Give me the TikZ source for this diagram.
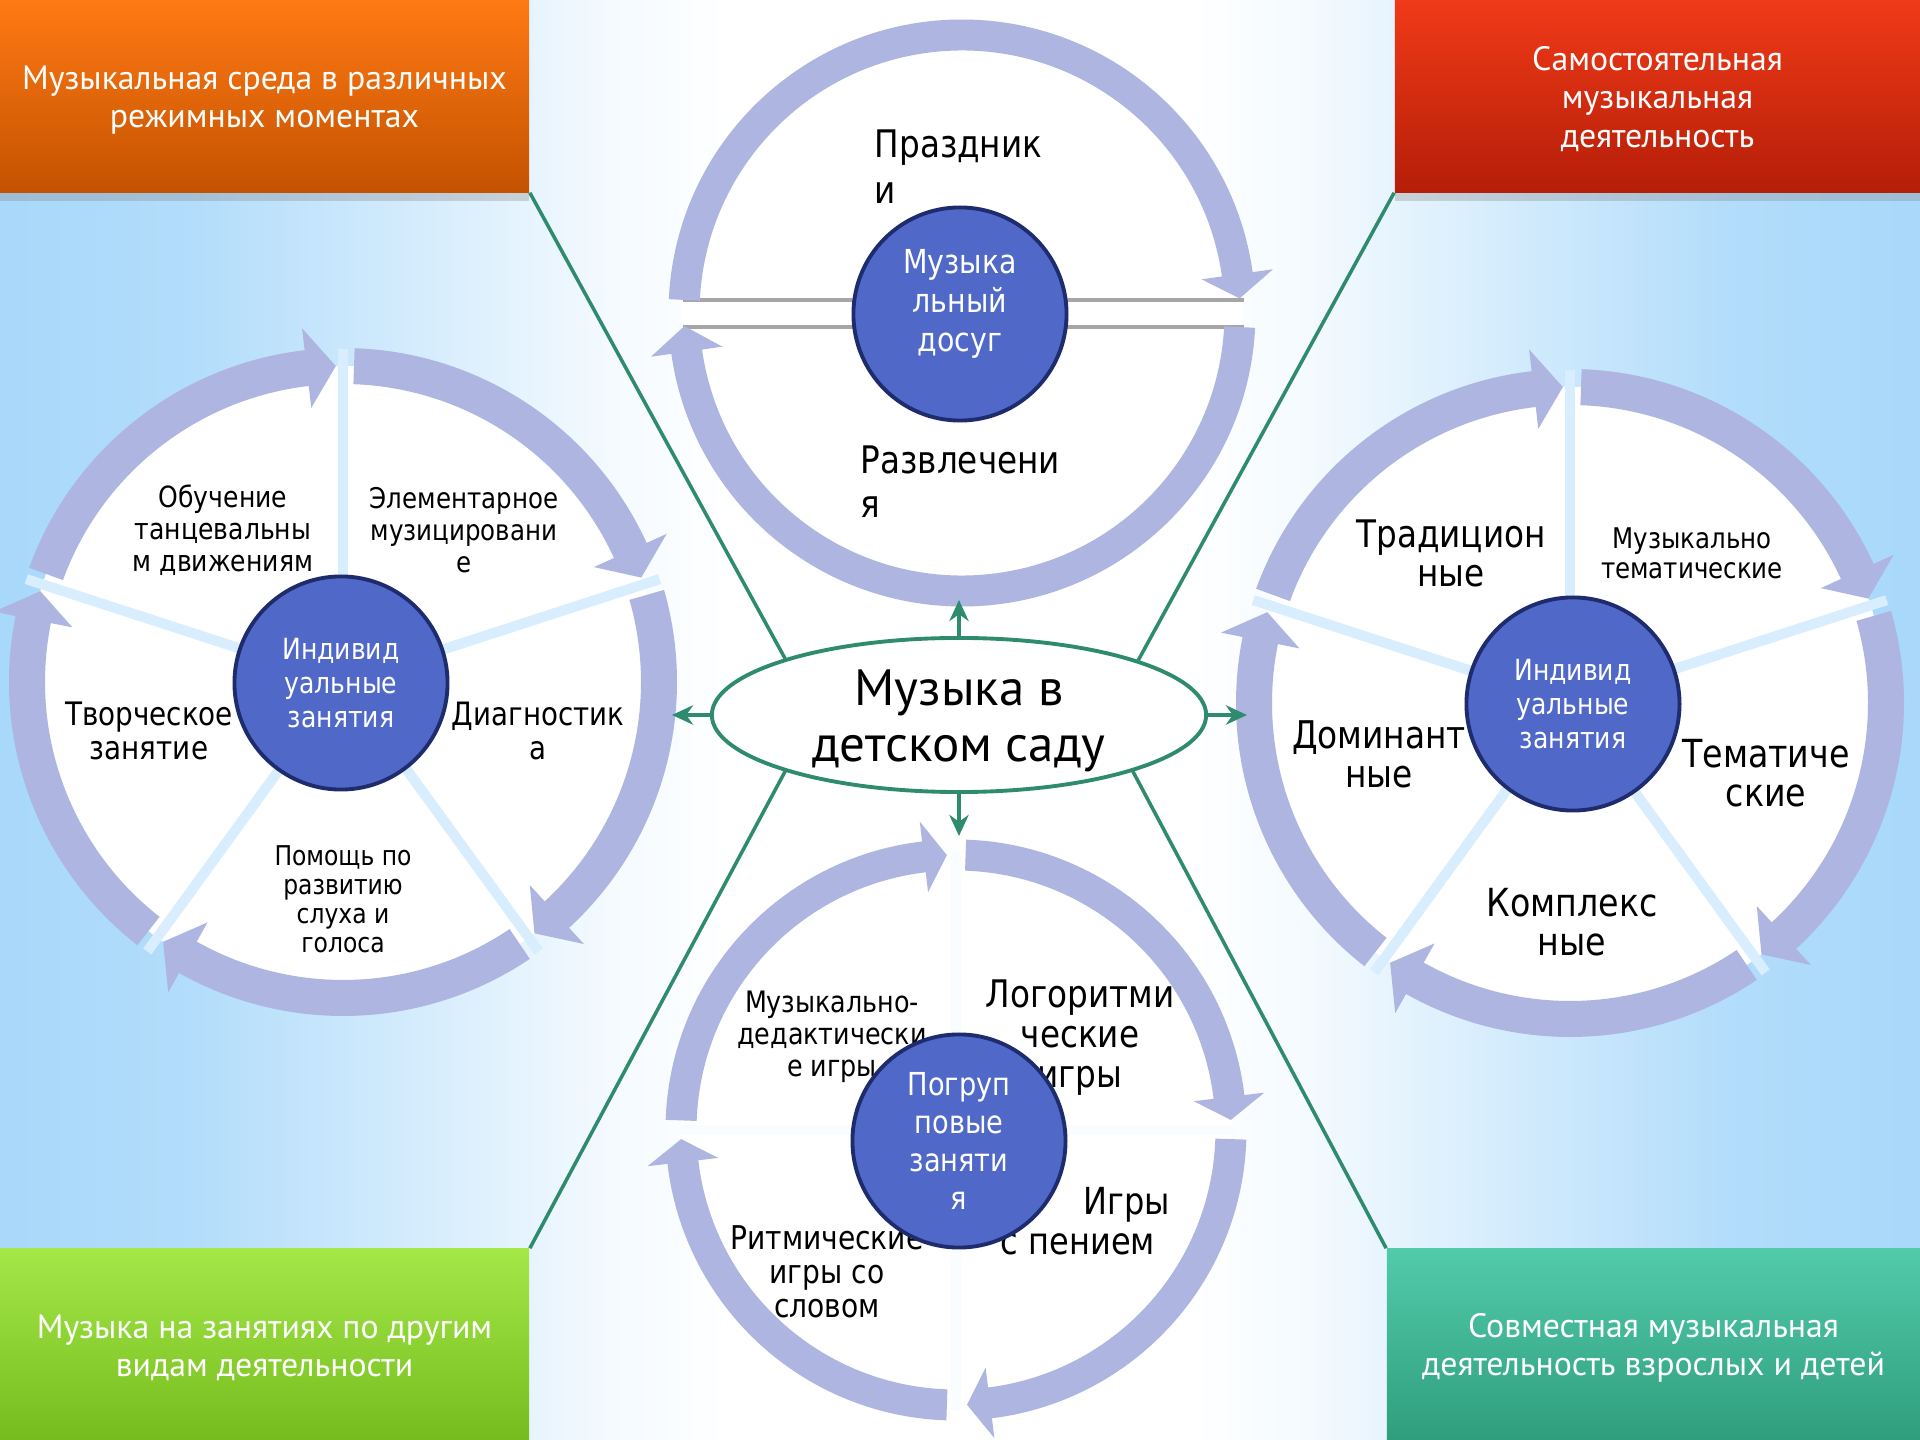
\documentclass[tikz,border=0pt]{standalone}
\usepackage{fontspec}
\setmainfont[FakeStretch=0.86]{DejaVu Sans}
\newfontfamily\boxfont{PT Sans}
\usetikzlibrary{shapes.geometric,arrows.meta,calc,shadows}

\definecolor{bgb}{HTML}{A8D8FA}
\colorlet{bgA}{bgb!88!white}
\colorlet{bgm}{bgb!55!white}
\colorlet{bgw}{bgb!12!white}
\definecolor{ringc}{HTML}{ADB5E0}
\definecolor{circf}{HTML}{5068C8}
\definecolor{circd}{HTML}{1E2B6C}
\definecolor{lineg}{HTML}{2E8B6E}
\definecolor{sepg}{HTML}{A6A6A6}
\definecolor{orT}{HTML}{FF7A14}\definecolor{orB}{HTML}{C45200}
\definecolor{rdT}{HTML}{F03A18}\definecolor{rdB}{HTML}{B51E08}
\definecolor{grT}{HTML}{A3E847}\definecolor{grB}{HTML}{76BC1E}
\definecolor{tlT}{HTML}{52CBAA}\definecolor{tlB}{HTML}{2F9E7C}
\colorlet{sepc}{bgb!45!white}
\colorlet{sepw}{bgb!6!white}

% visible part of a declared shading is the central 25bp..75bp
\pgfdeclarehorizontalshading{bgshade}{100bp}{color(0bp)=(bgb); color(25bp)=(bgb); color(30bp)=(bgA); color(35bp)=(bgm); color(41bp)=(bgw); color(44bp)=(white); color(56bp)=(white); color(59bp)=(bgw); color(65bp)=(bgm); color(70bp)=(bgA); color(75bp)=(bgb); color(100bp)=(bgb)}

\newcommand{\fsz}[2]{\fontsize{#1}{#2}\selectfont}
\newcommand{\ringarrow}[7]{%
 \pgfmathsetmacro\raA{#3}\pgfmathsetmacro\raB{#4}\pgfmathsetmacro\raC{#5}%
 \pgfmathsetmacro\rOut{#2+#6}\pgfmathsetmacro\rIn{#2-#6}%
 \pgfmathsetmacro\hOut{#2+#7}\pgfmathsetmacro\hIn{#2-#7}%
 \fill[ringc] ($(#1)+(\raA:\rOut)$) arc[start angle=\raA, end angle=\raB, radius=\rOut]
   -- ($(#1)+(\raB:\hOut)$) -- ($(#1)+(\raC:#2)$) -- ($(#1)+(\raB:\hIn)$)
   -- ($(#1)+(\raB:\rIn)$) arc[start angle=\raB, end angle=\raA, radius=\rIn] -- cycle;}

\begin{document}
\begin{tikzpicture}[x=0.01cm,y=-0.01cm,
  cornerbox/.style={rectangle, inner sep=0,
     drop shadow={shadow xshift=0pt,shadow yshift=-2.5pt,opacity=0.3}},
  boxtext/.style={inner sep=0, text=white, align=center, font=\boxfont\fsz{9.6}{10.9}},
  circ/.style={circle, fill=circf, draw=circd, line width=1.1pt, minimum size=2.13cm,
     inner sep=0, text=white, align=center},
  lab/.style={inner sep=0, align=center, text=black},
  gline/.style={draw=lineg, line width=1pt},
  garr/.style={draw=lineg, line width=1pt, -{Stealth[length=6pt,width=5.5pt]}},
  sepline/.style={line width=2.9pt}]
\useasboundingbox (0,0) rectangle (1920,1440);
\shade[shading=bgshade] (0,0) rectangle (1920,1440);

% corner boxes
\node[cornerbox, top color=orT, bottom color=orB, minimum width=5.29cm, minimum height=1.92cm]
  (bmode) at (264.5,96) {};
\node[boxtext] (bmodet) at (264.5,100) {Музыкальная среда в различных\\режимных моментах};
\node[cornerbox, top color=rdT, bottom color=rdB, minimum width=5.25cm, minimum height=1.92cm]
  (bself) at (1657.5,96) {};
\node[boxtext] (bselft) at (1657.5,99) {Самостоятельная\\музыкальная\\деятельность};
\node[cornerbox, top color=grT, bottom color=grB, minimum width=5.29cm, minimum height=1.91cm]
  (bother) at (264.5,1344.5) {};
\node[boxtext] (bothert) at (264.5,1348) {Музыка на занятиях по другим\\видам деятельности};
\node[cornerbox, top color=tlT, bottom color=tlB, minimum width=5.33cm, minimum height=1.91cm]
  (bjoint) at (1653.5,1344.5) {};
\node[boxtext] (bjointt) at (1653.5,1348) {Совместная музыкальная\\деятельность взрослых и детей};

% central ellipse
\node[ellipse, draw=lineg, line width=1.1pt, fill=white, minimum width=4.94cm,
  minimum height=1.54cm, inner sep=0] (mus) at (959,715) {};
\node[inner sep=0, align=center, font=\boxfont\fsz{14.5}{15.9}] (must) at (959,721) {Музыка в\\детском саду};

\draw[gline] (bmode.south east) -- (mus.162.5);
\draw[gline] (bself.south west) -- (mus.17.3);
\draw[gline] (bother.north east) -- (mus.198.1);
\draw[gline] (bjoint.north west) -- (mus.342.2);

% ---------- top cycle ----------
\coordinate (tc) at (962,313);
\fill[white] (tc) circle[radius=280];
\draw[sepg, line width=0.9pt] (683,300) -- (1244,300);
\draw[sepg, line width=0.9pt] (683,327) -- (1244,327);
\ringarrow{tc}{278}{182.7}{352}{357}{15.5}{36}
\ringarrow{tc}{278}{2.9}{172}{177.3}{15.5}{36}
\node[lab, anchor=west, align=left, font=\fsz{10.8}{13.1}] (prazd) at (874,167) {Праздник\\и};
\node[lab, anchor=west, align=left, font=\fsz{10.8}{12.5}] (razvl) at (860,482) {Развлечени\\я};
\node[circ] (dosug) at (960,314) {};
\node[lab, text=white, font=\fsz{9.4}{11.1}] (dosugt) at (960,304) {Музыка\\льный\\досуг};

% ---------- left cycle ----------
\coordinate (lc) at (343,682);
\fill[white] (lc) circle[radius=316];
\foreach \s in {198,270,342,54,126} \draw[sepc, sepline] (lc) -- ($(lc)+(\s:333)$);
\foreach \s in {198,270,342,414,486} {\ringarrow{lc}{316}{\s+2}{\s+72-6.6}{\s+72-1.3}{18}{40}}
\node[lab, font=\fsz{8.3}{9.1}] (obuch) at (223,530) {Обучение\\танцевальны\\м движениям};
\node[lab, font=\fsz{8.1}{9.1}] (elem) at (464,530) {Элементарное\\музицировани\\е};
\node[lab, font=\fsz{9.2}{9.7}] (tvor) at (149,731) {Творческое\\занятие};
\node[lab, font=\fsz{9.15}{9.7}] (diag) at (538,731) {Диагностик\\а};
\node[lab, font=\fsz{7.75}{8.25}] (pomosh) at (343,899) {Помощь по\\развитию\\слуха и\\голоса};
\node[circ, font=\fsz{8.3}{9.7}] (lcirc) at (341,683) {Индивид\\уальные\\занятия};

% ---------- right cycle ----------
\coordinate (rc) at (1570,703);
\fill[white] (rc) circle[radius=316];
\foreach \s in {198,270,342,54,126} \draw[sepc, sepline] (rc) -- ($(rc)+(\s:333)$);
\foreach \s in {198,270,342,414,486} {\ringarrow{rc}{316}{\s+2}{\s+72-6.6}{\s+72-1.3}{18}{40}}
\node[lab, font=\fsz{10.8}{11.1}] (trad) at (1451,553) {Традицион\\ные};
\node[lab, font=\fsz{8.1}{8.5}] (mtem) at (1692,553) {Музыкально\\тематические};
\node[lab, font=\fsz{10.85}{11.1}] (domin) at (1379,754) {Доминант\\ные};
\node[lab, font=\fsz{11.0}{11.1}] (temat) at (1766,773) {Тематиче\\ские};
\node[lab, font=\fsz{11.0}{11.2}] (kompl) at (1572,922) {Комплекс\\ные};
\node[circ, font=\fsz{8.3}{9.7}] (rcirc) at (1573,704) {Индивид\\уальные\\занятия};

% ---------- bottom cycle ----------
\coordinate (bc) at (956,1130);
\fill[white] (bc) circle[radius=275];
\draw[sepw, sepline] (956,850) -- (956,1410);
\draw[sepw, sepline] (676,1130) -- (1236,1130);
\ringarrow{bc}{275}{182}{263.3}{268.1}{15.5}{35.5}
\ringarrow{bc}{275}{272}{353.1}{357.9}{15.5}{35.5}
\ringarrow{bc}{275}{1.9}{82.9}{87.7}{15.5}{35.5}
\ringarrow{bc}{275}{91.9}{173.3}{178.1}{15.5}{35.5}
\node[lab, font=\fsz{8.4}{9.1}] (mdid) at (832,1037) {Музыкально-\\дедактически\\е игры};
\node[lab, font=\fsz{10.8}{11.4}] (logo) at (1080,1038) {Логоритми\\ческие\\игры};
\node[lab, font=\fsz{9.3}{9.7}] (ritm) at (827,1272) {Ритмические\\игры со\\словом};
\node[lab, anchor=east, align=right, font=\fsz{10.6}{11.4}] (igry) at (1171,1221) {Игры\\с пением\hspace*{4.3pt}};
\node[circ, font=\fsz{9.0}{10.8}] (bcirc) at (959,1141) {Погруп\\повые\\заняти\\я};

% ---------- arrows from centre ----------
\coordinate (tipU) at (959,600);
\coordinate (tipL) at (672,715);
\coordinate (tipR) at (1247,715);
\coordinate (tipD) at (959,836);
\draw[garr] (mus.north) -- (tipU);
\draw[garr] (mus.west) -- (tipL);
\draw[garr] (mus.east) -- (tipR);
\draw[garr] (mus.south) -- (tipD);
\end{tikzpicture}
\end{document}
